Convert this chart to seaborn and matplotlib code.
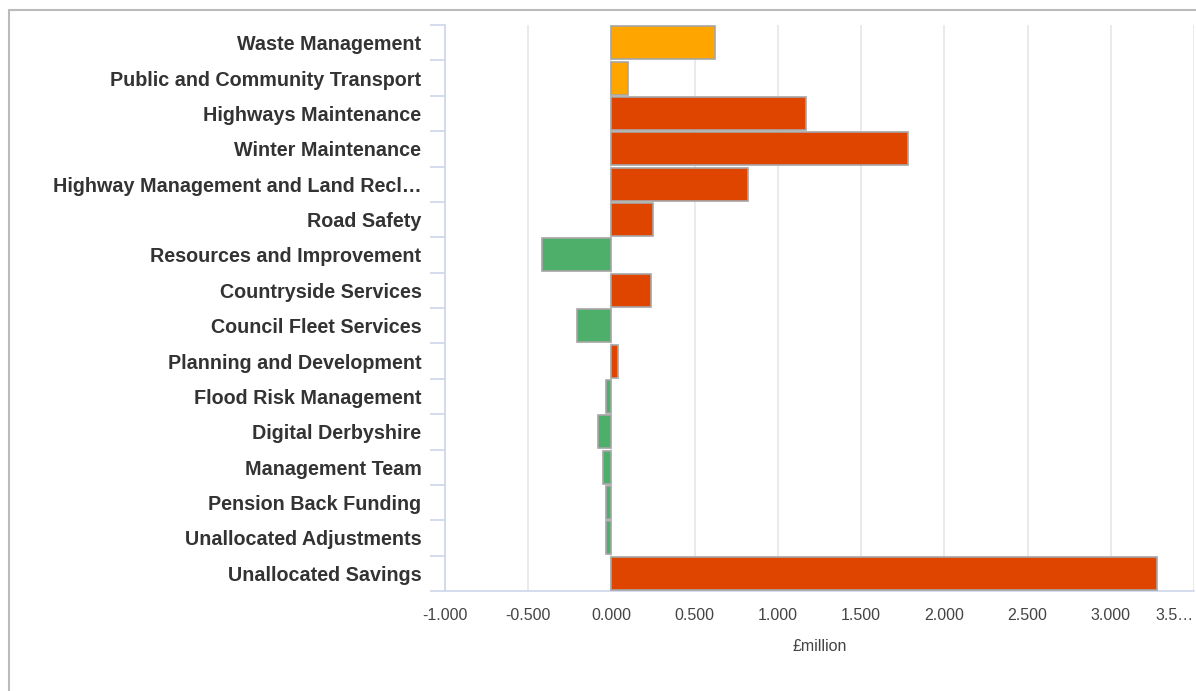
import matplotlib
matplotlib.use("Agg")
import matplotlib.pyplot as plt
from matplotlib.lines import Line2D
import seaborn as sns
import pandas as pd
import numpy as np

categories = [
    "Waste Management",
    "Public and Community Transport",
    "Highways Maintenance",
    "Winter Maintenance",
    "Highway Management and Land Recl…",
    "Road Safety",
    "Resources and Improvement",
    "Countryside Services",
    "Council Fleet Services",
    "Planning and Development",
    "Flood Risk Management",
    "Digital Derbyshire",
    "Management Team",
    "Pension Back Funding",
    "Unallocated Adjustments",
    "Unallocated Savings",
]
values = [0.62, 0.10, 1.17, 1.78, 0.82, 0.25, -0.415, 0.24, -0.205, 0.04,
          -0.03, -0.08, -0.05, -0.03, -0.03, 3.28]
status = ["amber", "amber", "red", "red", "red", "red", "green", "red", "green",
          "red", "green", "green", "green", "green", "green", "red"]
status_colors = {"amber": "#FFA500", "red": "#E04500", "green": "#4DAF6A"}

x_ticks = [-1.0, -0.5, 0.0, 0.5, 1.0, 1.5, 2.0, 2.5, 3.0, 3.5]
x_tick_labels = ["-1.000", "-0.500", "0.000", "0.500", "1.000", "1.500",
                 "2.000", "2.500", "3.000", "3.5…"]

df = pd.DataFrame({"category": categories, "value": values, "status": status})

sns.set_theme(style="white")
plt.rcParams["font.family"] = ["Liberation Sans", "DejaVu Sans"]

fig = plt.figure(figsize=(11.96, 6.91), dpi=100)
ax = fig.add_axes([445 / 1196, 1 - 591 / 691, (1194 - 445) / 1196, (591 - 25) / 691])

palette = [status_colors[s] for s in status]
sns.barplot(data=df, x="value", y="category", hue="category", palette=palette,
            orient="h", width=0.93, saturation=1, edgecolor="#A6A6A6", linewidth=1.2,
            legend=False, ax=ax, zorder=3)

ax.set_xlim(-1.0, 3.5)
ax.set_ylim(len(categories) - 0.5, -0.5)
ax.set_xticks(x_ticks)
ax.set_xticklabels(x_tick_labels, fontsize=11.5, color="#444444")
ax.get_xticklabels()[-1].set_horizontalalignment("right")
ax.grid(axis="x", color="#E6E6E6", linewidth=1.2, zorder=0)
ax.grid(axis="y", visible=False)

ax.set_yticks(np.arange(len(categories)))
ax.set_yticklabels(categories, fontsize=14.2, fontweight="bold", color="#333333")
ax.set_yticks(np.arange(-0.5, len(categories), 1.0), minor=True)
ax.tick_params(axis="y", which="major", length=0, pad=17)
ax.tick_params(axis="y", which="minor", length=11, width=1.2, color="#CCD6EB", left=True)
ax.tick_params(axis="x", which="both", length=0, pad=12)

ax.set_xlabel("£million", fontsize=11.5, color="#444444", labelpad=12)
ax.set_ylabel("")

for side in ["top", "right"]:
    ax.spines[side].set_visible(False)
ax.spines["left"].set_color("#CCD6EB")
ax.spines["left"].set_linewidth(1.2)
ax.spines["bottom"].set_color("#CCD6EB")
ax.spines["bottom"].set_linewidth(1.2)

# outer frame lines of the chart container
fig.add_artist(Line2D([9 / 1196, 1.0], [1 - 10 / 691, 1 - 10 / 691],
                      transform=fig.transFigure, color="#BBBBBB", linewidth=1.5))
fig.add_artist(Line2D([9 / 1196, 9 / 1196], [0.0, 1 - 10 / 691],
                      transform=fig.transFigure, color="#BBBBBB", linewidth=1.5))

fig.savefig("out.png", dpi=100)
